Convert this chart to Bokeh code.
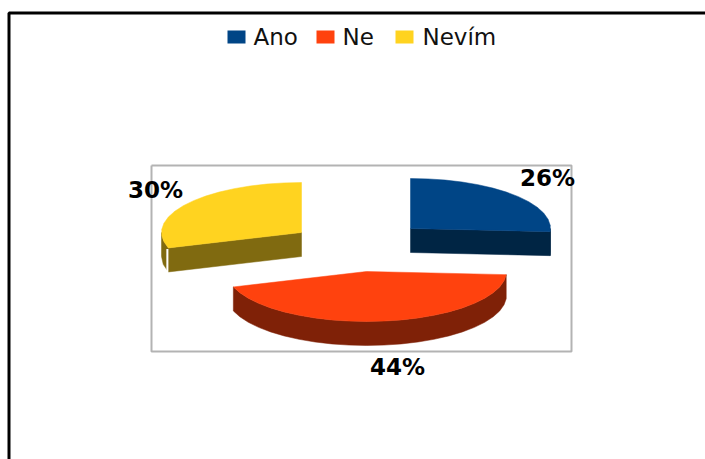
import numpy as np
from bokeh.plotting import figure
from bokeh.models import Range1d
from bokeh.core.properties import value
from bokeh.embed import file_html
from bokeh.resources import INLINE

categories = ["Ano", "Ne", "Nevím"]
shares = [26, 44, 30]
labels = ["26%", "44%", "30%"]
colors = ["#004586", "#ff420e", "#ffd320"]
wall_colors = ["#002544", "#7f2107", "#806a10"]

# slice apex positions (exploded pie), ellipse radii and extrusion, in page pixels
apex_x = [410, 366, 301]
apex_y = [228, 271, 232]
RX, RY, DEPTH = 140, 50, 24
STEP = 7  # degrees; the source pie is visibly polygonal

label_x = [547, 397, 155]
label_y = [177, 366, 189]

legend_box_x = [227, 316, 395]
legend_text_x = [253, 342, 422]

p = figure(width=705, height=459, output_backend="svg", toolbar_location=None,
           x_range=Range1d(0, 705), y_range=Range1d(459, 0),
           min_border=0, outline_line_color=None, background_fill_color="white",
           border_fill_color="white")
p.axis.visible = False
p.grid.visible = False

# outer frame
p.line([8.5, 8.5, 705], [459, 12.5, 12.5], line_color="black", line_width=3)
# plot wall
p.line([151, 571, 571, 151, 151], [165, 165, 351, 351, 165], line_color="#b3b3b3", line_width=2)


def arc(cx, cy, a0, a1):
    n = max(int(abs(a1 - a0) / STEP), 1)
    t = np.radians(np.linspace(a0, a1, n + 1))
    return cx + RX * np.cos(t), cy - RY * np.sin(t)


start = 90.0
spans = []
for s in shares:
    spans.append((start, start - s * 3.6))
    start -= s * 3.6


def radial_wall(cx, cy, angle, w):
    ex, ey = arc(cx, cy, angle, angle)
    p.patch([cx, ex[0], ex[0], cx], [cy, ey[0], ey[0] + DEPTH, cy + DEPTH],
            fill_color=w, line_color=w, line_width=0.5)
    return ex[0], ey[0]


for i in [0, 2, 1]:
    a0, a1 = spans[i]
    cx, cy = apex_x[i], apex_y[i]
    c, w = colors[i], wall_colors[i]
    # outer wall: front-facing part of the arc only
    if i == 0:
        r0, r1 = 0.0, a1
    elif i == 1:
        r0, r1 = a0, a1
    else:
        r0, r1 = a0, -180.0
    ax, ay = arc(cx, cy, r0, r1)
    p.patch(np.r_[ax, ax[::-1]], np.r_[ay, ay[::-1] + DEPTH], fill_color=w, line_color=w, line_width=0.5)
    # radial wall visible at the front
    if i == 0:
        radial_wall(cx, cy, a1, w)
    if i == 2:
        ex, ey = radial_wall(cx, cy, a0, w)
        p.line([ex - 1, ex - 1], [ey + 1, ey + DEPTH], line_color="white", line_width=2)
    # top face
    ax, ay = arc(cx, cy, a0, a1)
    p.patch(np.r_[cx, ax], np.r_[cy, ay], fill_color=c, line_color=c, line_width=0.5)

# data labels
p.text(label_x, label_y, text=labels, text_font=value("DejaVu Sans"), text_font_style="bold",
       text_font_size="23px", text_color="black", text_align="center", text_baseline="middle")

# legend
p.quad(left=legend_box_x, right=[v + 18 for v in legend_box_x], top=[30] * 3, bottom=[43] * 3,
       fill_color=colors, line_color=None)
p.text(legend_text_x, [36] * 3, text=categories, text_font=value("DejaVu Sans"),
       text_font_size="23px", text_color="#111111", text_align="left", text_baseline="middle")

open("out.html", "w").write(file_html(p, INLINE))
